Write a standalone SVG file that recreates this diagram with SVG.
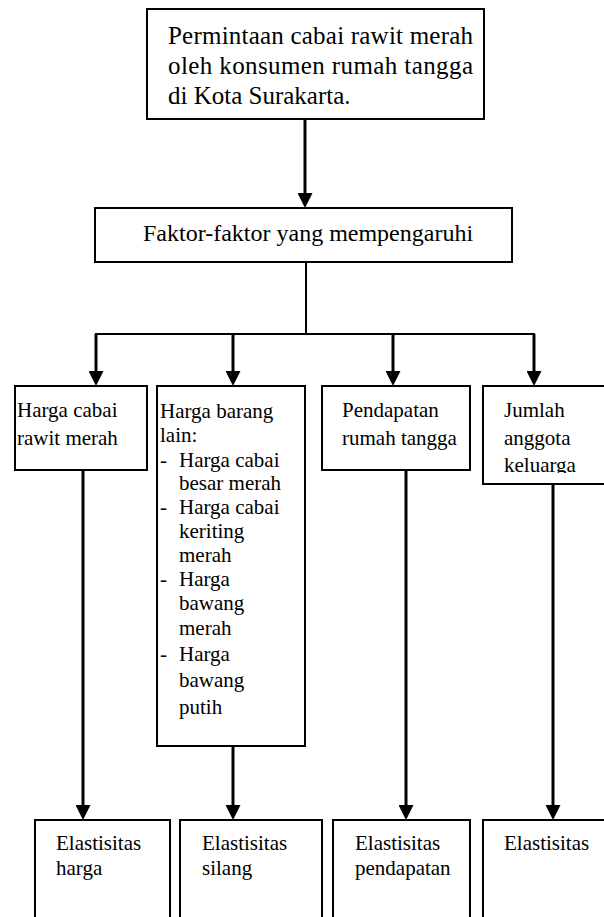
<svg xmlns="http://www.w3.org/2000/svg" width="604" height="917" viewBox="0 0 604 917">
<style>
.box{fill:#fff;stroke:#000;stroke-width:2}
.t{font-family:"Liberation Serif","Times New Roman",serif;font-size:21px;fill:#000}
.tb{font-family:"Liberation Serif","Times New Roman",serif;font-size:24px;fill:#000}
.tt{font-family:"Liberation Serif","Times New Roman",serif;font-size:25px;fill:#000}
.thin{fill:none;stroke:#000;stroke-width:2}
.arr{fill:none;stroke:#000;stroke-width:3;marker-end:url(#ah)}
</style>
<defs>
<marker id="ah" markerUnits="userSpaceOnUse" markerWidth="15" markerHeight="15" refX="7" refY="7.5" orient="auto" viewBox="0 0 15 15">
<path d="M0,0 L15,7.5 L0,15 z" fill="#000"/>
</marker>
<clipPath id="c4"><rect x="483" y="386" width="130" height="87"/></clipPath>
</defs>
<rect width="604" height="917" fill="#fff"/>
<g id="connectors">
<line class="arr" x1="305" y1="119" x2="305" y2="200"/>
<line class="thin" x1="306" y1="262" x2="306" y2="334"/>
<line class="thin" x1="95" y1="334" x2="535" y2="334"/>
<line class="arr" x1="96" y1="334" x2="96" y2="378"/>
<line class="arr" x1="233" y1="334" x2="233" y2="378"/>
<line class="arr" x1="393" y1="334" x2="393" y2="378"/>
<line class="arr" x1="534" y1="334" x2="534" y2="378"/>
<line class="arr" x1="83" y1="470" x2="83" y2="812"/>
<line class="arr" x1="233" y1="746" x2="233" y2="812"/>
<line class="arr" x1="406" y1="470" x2="406" y2="812"/>
<line class="arr" x1="553" y1="484" x2="553" y2="812"/>
</g>
<g id="top">
<rect class="box" x="147" y="9" width="337" height="110"/>
<text class="tt" x="168" y="44" textLength="305" lengthAdjust="spacing">Permintaan cabai rawit merah</text>
<text class="tt" x="168" y="74" textLength="305" lengthAdjust="spacing">oleh konsumen rumah tangga</text>
<text class="tt" x="168" y="104">di Kota Surakarta.</text>
</g>
<g id="faktor">
<rect class="box" x="95" y="208" width="417" height="54"/>
<text class="tb" x="143" y="241">Faktor-faktor yang mempengaruhi</text>
</g>
<g id="harga-cabai">
<rect class="box" x="15" y="386" width="132" height="84"/>
<text class="t" x="17" y="417">Harga cabai</text>
<text class="t" x="17" y="445">rawit merah</text>
</g>
<g id="harga-lain">
<rect class="box" x="157" y="386" width="148" height="360"/>
<text class="t" x="160" y="418">Harga barang</text>
<text class="t" x="160" y="442">lain:</text>
<text class="t" x="160" y="467">-</text>
<text class="t" x="179" y="467">Harga cabai</text>
<text class="t" x="179" y="490">besar merah</text>
<text class="t" x="160" y="514">-</text>
<text class="t" x="179" y="514">Harga cabai</text>
<text class="t" x="179" y="538">keriting</text>
<text class="t" x="179" y="562">merah</text>
<text class="t" x="160" y="586">-</text>
<text class="t" x="179" y="586">Harga</text>
<text class="t" x="179" y="610">bawang</text>
<text class="t" x="179" y="635">merah</text>
<text class="t" x="160" y="661">-</text>
<text class="t" x="179" y="661">Harga</text>
<text class="t" x="179" y="687">bawang</text>
<text class="t" x="179" y="714">putih</text>
</g>
<g id="pendapatan">
<rect class="box" x="322" y="386" width="148" height="84"/>
<text class="t" x="342" y="417">Pendapatan</text>
<text class="t" x="342" y="445">rumah tangga</text>
</g>
<g id="jumlah">
<rect class="box" x="483" y="386" width="130" height="98"/>
<g clip-path="url(#c4)">
<text class="t" x="504" y="417">Jumlah</text>
<text class="t" x="504" y="445">anggota</text>
<text class="t" x="504" y="472">keluarga</text>
</g>
</g>
<g id="el-harga">
<rect class="box" x="35" y="820" width="135" height="110"/>
<text class="t" x="56" y="850">Elastisitas</text>
<text class="t" x="56" y="875">harga</text>
</g>
<g id="el-silang">
<rect class="box" x="180" y="820" width="142" height="110"/>
<text class="t" x="202" y="850">Elastisitas</text>
<text class="t" x="202" y="875">silang</text>
</g>
<g id="el-pendapatan">
<rect class="box" x="333" y="820" width="137" height="110"/>
<text class="t" x="355" y="850">Elastisitas</text>
<text class="t" x="355" y="875">pendapatan</text>
</g>
<g id="el-4">
<rect class="box" x="483" y="820" width="130" height="110"/>
<text class="t" x="504" y="850">Elastisitas</text>
</g>
</svg>
